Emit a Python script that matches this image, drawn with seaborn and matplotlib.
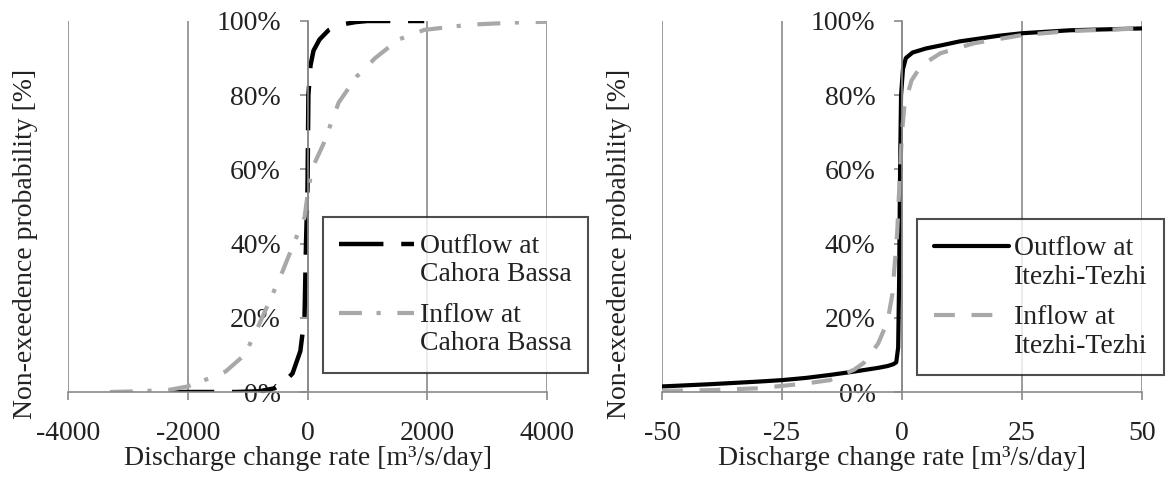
import numpy as np
import pandas as pd
import matplotlib
matplotlib.use('Agg')
import matplotlib.pyplot as plt
from matplotlib.ticker import PercentFormatter
from matplotlib.legend_handler import HandlerLine2D
import seaborn as sns

# Cahora Bassa (left panel)
cb_out_x = [-2300, -1800, -1200, -800, -550, -400, -250, -120, -50, -25, 0, 15, 50, 100, 200, 350, 550, 800, 1000, 1500, 1950]
cb_out_y = [0, 0, 0, 0.2, 1, 2.5, 5, 11, 20, 40, 55, 80, 88, 92, 95, 97.5, 99, 99.7, 100, 100, 100]
cb_in_x = [-3300, -2800, -2300, -2000, -1750, -1370, -1050, -870, -620, -430, -230, -50, 0, 70, 270, 520, 820, 1130, 1520, 1950, 2700, 3500, 4000]
cb_in_y = [0, 0.2, 0.6, 1.5, 3, 5.5, 10, 16, 25, 32, 40, 47, 53, 60, 67, 78, 85, 90, 95, 97.6, 99, 99.6, 99.8]

# Itezhi-Tezhi (right panel)
it_out_x = [-50, -40, -30, -25, -20, -15, -10, -5, -3, -1.8, -1.2, -0.8, -0.6, -0.4, -0.2, 0.2, 0.8, 2.2, 5, 8.4, 12, 16.3, 20, 25, 35, 50]
it_out_y = [1.5, 2.1, 2.8, 3.2, 3.8, 4.6, 5.5, 6.5, 7, 7.5, 8, 12, 30, 60, 80, 87, 90, 91.5, 92.6, 93.5, 94.5, 95.3, 96, 96.7, 97.5, 98]
it_in_x = [-50, -40, -30, -20, -15, -10, -8, -5, -3, -2, -1, -0.5, 0, 0.5, 1, 2, 4, 8, 15, 25, 35, 50]
it_in_y = [0.3, 0.5, 1, 2.3, 3.2, 6, 7.8, 13, 19, 26.5, 43, 57, 70, 77, 79.6, 84, 88, 91.3, 94, 96.2, 97.3, 98]

sns.set_style('white')
plt.rcParams['font.family'] = ['Liberation Serif', 'DejaVu Serif']
plt.rcParams['axes.unicode_minus'] = False

txt = '#222222'
grid = '#8a8a8a'
light = '#a8a8a8'
fs = 20


class RaisedLine(HandlerLine2D):
    # put the legend line beside the first text line
    def create_artists(self, legend, orig_handle, xdescent, ydescent,
                       width, height, fontsize, trans):
        arts = super().create_artists(legend, orig_handle, xdescent, ydescent,
                                      width, height, fontsize, trans)
        for a in arts:
            a.set_ydata(np.asarray(a.get_ydata()) + 0.58 * fontsize)
        return arts


fig = plt.figure(figsize=(11.75, 4.8), dpi=100)
ax1 = fig.add_axes([68 / 1175, 88 / 480, 479 / 1175, 371 / 480])
ax2 = fig.add_axes([662 / 1175, 88 / 480, 480 / 1175, 371 / 480])


def style_axes(ax, xlim, xticks):
    ax.set_xlim(*xlim)
    ax.set_ylim(0, 100)
    ax.set_xticks(xticks)
    ax.set_yticks(range(0, 101, 20))
    ax.yaxis.set_major_formatter(PercentFormatter(100, decimals=0))
    for x in xticks:
        ax.axvline(x, color=grid, lw=1.2, zorder=0)
    for s in ['top', 'right']:
        ax.spines[s].set_visible(False)
    ax.spines['left'].set_position(('data', 0))
    ax.spines['left'].set_color(grid)
    ax.spines['bottom'].set_color(grid)
    ax.spines['left'].set_linewidth(1.2)
    ax.spines['bottom'].set_linewidth(1.2)
    ax.tick_params(axis='x', direction='out', length=6, width=1.2, color=grid,
                   pad=15, labelsize=fs, labelcolor=txt, bottom=True)
    ax.tick_params(axis='y', direction='out', length=6, width=1.2, color=grid,
                   pad=13, labelsize=fs, labelcolor=txt, left=True)
    ax.set_xlabel('Discharge change rate [m³/s/day]', fontsize=fs, color=txt)
    ax.xaxis.set_label_coords(0.5, -0.145)
    ax.set_ylabel('Non-exeedence probability [%]', fontsize=fs, color=txt)
    ax.yaxis.set_label_coords(-0.063, 0.40)
    ax.set_facecolor('none')


# left
sns.lineplot(x=cb_out_x, y=cb_out_y, ax=ax1, color='black', lw=3.2, estimator=None,
             label='Outflow at\nCahora Bassa')
ax1.lines[-1].set_dashes([10, 4])
sns.lineplot(x=cb_in_x, y=cb_in_y, ax=ax1, color=light, lw=3, estimator=None,
             label='Inflow at\nCahora Bassa')
ax1.lines[-1].set_dashes([5.5, 3.5, 1, 4])
style_axes(ax1, (-4000, 4000), [-4000, -2000, 0, 2000, 4000])

# right
sns.lineplot(x=it_out_x, y=it_out_y, ax=ax2, color='black', lw=3, estimator=None,
             label='Outflow at\nItezhi-Tezhi')
sns.lineplot(x=it_in_x, y=it_in_y, ax=ax2, color=light, lw=3, estimator=None,
             label='Inflow at\nItezhi-Tezhi')
ax2.lines[-1].set_dashes([5, 4])
style_axes(ax2, (-50, 50), [-50, -25, 0, 25, 50])

for ax, bb in [(ax1, (0.532, 0.472)), (ax2, (0.531, 0.466))]:
    h, l = ax.get_legend_handles_labels()
    leg = ax.legend(h, l, loc='upper left', bbox_to_anchor=bb, fontsize=fs, frameon=True,
                    fancybox=False, edgecolor='#222222', handlelength=2.7,
                    labelspacing=0.55, borderpad=0.6, handletextpad=0.2,
                    borderaxespad=0, handler_map={type(h[0]): RaisedLine()})
    leg.get_frame().set_linewidth(1.5)
    for t in leg.get_texts():
        t.set_color(txt)
        t.set_linespacing(1.2)
    leg.set_zorder(5)

fig.savefig('out.png', dpi=100)
